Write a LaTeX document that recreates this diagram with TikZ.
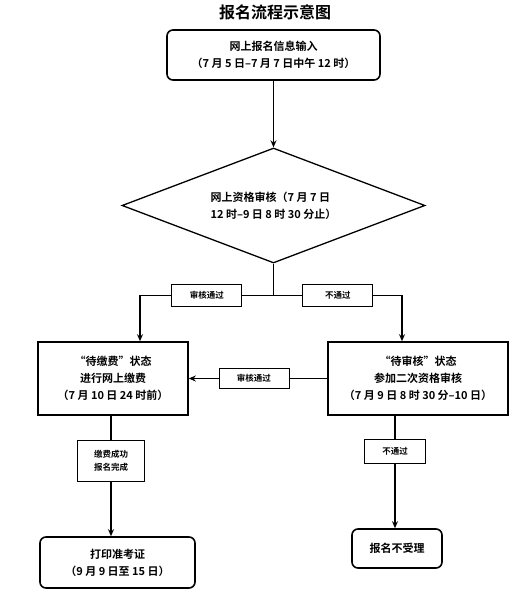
\documentclass[tikz,border=0pt]{standalone}
\usepackage{fontspec}
\setmainfont{Noto Sans CJK SC}[BoldFont=Noto Sans CJK SC Bold]
\usetikzlibrary{shapes.geometric,arrows.meta}
\begin{document}
\begin{tikzpicture}[x=1pt,y=-1pt,
  every node/.style={font=\bfseries\fontsize{11}{17}\selectfont},
  roundbox/.style={draw,line width=1.6pt,rounded corners=6pt,align=center,inner sep=0pt},
  squarebox/.style={draw,line width=1.6pt,align=center,inner sep=0pt},
  tag/.style={draw,fill=white,line width=0.6pt,align=center,inner sep=0pt,font=\bfseries\fontsize{8.5}{13}\selectfont},
  conn/.style={line width=1.3pt},
  arr/.style={conn,-{Stealth[length=7pt,width=6pt]}}]
\useasboundingbox (0,0) rectangle (523,594);
\node[font=\bfseries\fontsize{16}{18}\selectfont] (title) at (275,12) {报名流程示意图};
\node[roundbox,minimum width=213pt,minimum height=50pt] (top) at (273.5,55)
  {网上报名信息输入\\（7 月 5 日–7 月 7 日中午 12 时）};
\node[diamond,aspect=2.63,draw,line width=1.3pt,minimum width=303pt,minimum height=115pt,inner sep=0pt,align=left] (dia) at (273.5,205.5)
  {网上资格审核（7 月 7 日\\12 时–9 日 8 时 30 分止）};
\node[squarebox,minimum width=150pt,minimum height=73pt] (lb) at (113,378.5)
  {“待缴费”状态\\进行网上缴费\\（7 月 10 日 24 时前）};
\node[squarebox,minimum width=180pt,minimum height=73pt] (rb) at (418,378.5)
  {“待审核”状态\\参加二次资格审核\\（7 月 9 日 8 时 30 分–10 日）};
\node[roundbox,minimum width=155pt,minimum height=51pt] (bl) at (117.5,562.5)
  {打印准考证\\（9 月 9 日至 15 日）};
\node[roundbox,minimum width=90pt,minimum height=39pt] (br) at (397,548.5)
  {报名不受理};
\coordinate (j) at (273.5,295.5);
\coordinate (jl) at (140,295.5);
\coordinate (jr) at (402,295.5);
\draw[arr] (top.south) -- (dia.north);
\draw[conn] (dia.south) -- (j);
\draw[arr] (j) -- node[tag,minimum width=70pt,minimum height=22pt] (t1) {审核通过} (jl) -- (jl |- lb.north);
\draw[arr] (j) -- node[tag,minimum width=70pt,minimum height=22pt] (t2) {不通过} (jr) -- (jr |- rb.north);
\draw[arr] (rb.west) -- node[tag,minimum width=70pt,minimum height=20pt,pos=0.53] (t3) {审核通过} (lb.east);
\coordinate (ls) at (111,0);
\coordinate (rs) at (395,0);
\draw[arr] (ls |- lb.south) -- node[tag,minimum width=67pt,minimum height=41pt,pos=0.37] (t4) {缴费成功\\报名完成} (ls |- bl.north);
\draw[arr] (rs |- rb.south) -- node[tag,minimum width=61pt,minimum height=24pt,pos=0.32] (t5) {不通过} (rs |- br.north);
\end{tikzpicture}
\end{document}
